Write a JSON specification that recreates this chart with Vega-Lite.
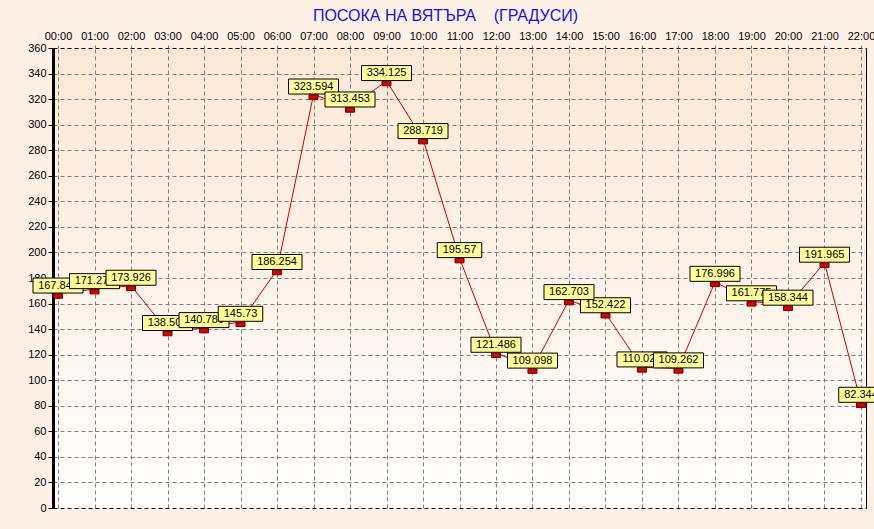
{
  "$schema": "https://vega.github.io/schema/vega-lite/v6.json",
  "width": 813,
  "height": 460,
  "autosize": "none",
  "padding": {"left": 53, "top": 48, "right": 8, "bottom": 21},
  "background": "#fdf0e5",
  "title": {
    "text": "ПОСОКА НА ВЯТЪРА\u00a0\u00a0\u00a0\u00a0(ГРАДУСИ)",
    "color": "#1414e6",
    "font": "Liberation Sans",
    "fontSize": 16,
    "fontWeight": "normal",
    "anchor": "middle",
    "dx": -14,
    "offset": 6
  },
  "data": {
    "values": [
      {"time": "00:00", "value": 167.842},
      {"time": "01:00", "value": 171.274},
      {"time": "02:00", "value": 173.926},
      {"time": "03:00", "value": 138.503},
      {"time": "04:00", "value": 140.786},
      {"time": "05:00", "value": 145.73},
      {"time": "06:00", "value": 186.254},
      {"time": "07:00", "value": 323.594},
      {"time": "08:00", "value": 313.453},
      {"time": "09:00", "value": 334.125},
      {"time": "10:00", "value": 288.719},
      {"time": "11:00", "value": 195.57},
      {"time": "12:00", "value": 121.486},
      {"time": "13:00", "value": 109.098},
      {"time": "14:00", "value": 162.703},
      {"time": "15:00", "value": 152.422},
      {"time": "16:00", "value": 110.027},
      {"time": "17:00", "value": 109.262},
      {"time": "18:00", "value": 176.996},
      {"time": "19:00", "value": 161.775},
      {"time": "20:00", "value": 158.344},
      {"time": "21:00", "value": 191.965},
      {"time": "22:00", "value": 82.344}
    ]
  },
  "resolve": {"axis": {"y": "independent"}},
  "layer": [
    {
      "mark": {"type": "line", "color": "#cc0000", "strokeWidth": 1},
      "encoding": {
        "x": {
          "field": "time", "type": "ordinal", "sort": null,
          "scale": {"type": "point", "padding": 0.137},
          "axis": {
            "orient": "top", "title": null, "labelAngle": 0,
            "labelFont": "Liberation Sans", "labelFontSize": 11, "labelColor": "#000000",
            "labelPadding": 3, "tickSize": 4, "tickColor": "#808080", "tickDash": [3, 3],
            "domain": false,
            "grid": true, "gridColor": "#808080", "gridDash": [4, 3], "gridWidth": 1
          }
        },
        "y": {
          "field": "value", "type": "quantitative",
          "scale": {"domain": [0, 360], "nice": false},
          "axis": {
            "title": null, "values": [0,20,40,60,80,100,120,140,160,180,200,220,240,260,280,300,320,340,360],
            "labelFont": "Liberation Sans", "labelFontSize": 11, "labelColor": "#000000",
            "labelPadding": 2, "tickSize": 5, "tickColor": "#000000",
            "domainColor": "#000000", "domainWidth": 3,
            "grid": true,
            "gridColor": {"condition": {"test": "datum.value == 0 || datum.value == 360", "value": "#000000"}, "value": "#808080"},
            "gridDash": [4, 3], "gridWidth": 1
          }
        }
      }
    },
    {
      "mark": {"type": "point", "shape": "M-1,-0.5L1,-0.5L1,0.5L-1,0.5Z", "size": 81, "filled": true, "fill": "#dd0000", "stroke": "#700000", "strokeWidth": 1, "opacity": 1, "yOffset": 2.5},
      "encoding": {
        "x": {"field": "time", "type": "ordinal", "sort": null},
        "y": {
          "field": "value", "type": "quantitative",
          "axis": {"orient": "right", "title": null, "labels": false, "ticks": false, "grid": false, "domainColor": "#000000", "domainWidth": 1}
        }
      }
    },
    {
      "transform": [{"filter": "toNumber(slice(datum.time,0,2)) % 3 == 0"}],
      "layer": [
        {
          "mark": {"type": "rect", "fill": "#ffff99", "stroke": "#000000", "strokeWidth": 1, "height": 15, "width": {"expr": "length(format(datum.value, '.3~f')) * 5.5 + 11.5"}, "yOffset": -8},
          "encoding": {
            "x": {"field": "time", "type": "ordinal", "sort": null},
            "y": {"field": "value", "type": "quantitative", "axis": null}
          }
        },
        {
          "mark": {"type": "text", "font": "Liberation Sans", "fontSize": 11, "color": "#000000", "baseline": "middle", "align": "center", "yOffset": -8},
          "encoding": {
            "x": {"field": "time", "type": "ordinal", "sort": null},
            "y": {"field": "value", "type": "quantitative", "axis": null},
            "text": {"field": "value", "type": "quantitative", "format": ".3~f"}
          }
        }
      ]
    },
    {
      "transform": [{"filter": "toNumber(slice(datum.time,0,2)) % 3 == 1"}],
      "layer": [
        {
          "mark": {"type": "rect", "fill": "#ffff99", "stroke": "#000000", "strokeWidth": 1, "height": 15, "width": {"expr": "length(format(datum.value, '.3~f')) * 5.5 + 11.5"}, "yOffset": -8},
          "encoding": {
            "x": {"field": "time", "type": "ordinal", "sort": null},
            "y": {"field": "value", "type": "quantitative", "axis": null}
          }
        },
        {
          "mark": {"type": "text", "font": "Liberation Sans", "fontSize": 11, "color": "#000000", "baseline": "middle", "align": "center", "yOffset": -8},
          "encoding": {
            "x": {"field": "time", "type": "ordinal", "sort": null},
            "y": {"field": "value", "type": "quantitative", "axis": null},
            "text": {"field": "value", "type": "quantitative", "format": ".3~f"}
          }
        }
      ]
    },
    {
      "transform": [{"filter": "toNumber(slice(datum.time,0,2)) % 3 == 2"}],
      "layer": [
        {
          "mark": {"type": "rect", "fill": "#ffff99", "stroke": "#000000", "strokeWidth": 1, "height": 15, "width": {"expr": "length(format(datum.value, '.3~f')) * 5.5 + 11.5"}, "yOffset": -8},
          "encoding": {
            "x": {"field": "time", "type": "ordinal", "sort": null},
            "y": {"field": "value", "type": "quantitative", "axis": null}
          }
        },
        {
          "mark": {"type": "text", "font": "Liberation Sans", "fontSize": 11, "color": "#000000", "baseline": "middle", "align": "center", "yOffset": -8},
          "encoding": {
            "x": {"field": "time", "type": "ordinal", "sort": null},
            "y": {"field": "value", "type": "quantitative", "axis": null},
            "text": {"field": "value", "type": "quantitative", "format": ".3~f"}
          }
        }
      ]
    }
  ],
  "config": {
    "view": {
      "stroke": null,
      "fill": {
        "gradient": "linear", "x1": 0, "y1": 0, "x2": 0, "y2": 1,
        "stops": [{"offset": 0, "color": "#fde8d6"}, {"offset": 1, "color": "#fffefd"}]
      }
    }
  }
}
